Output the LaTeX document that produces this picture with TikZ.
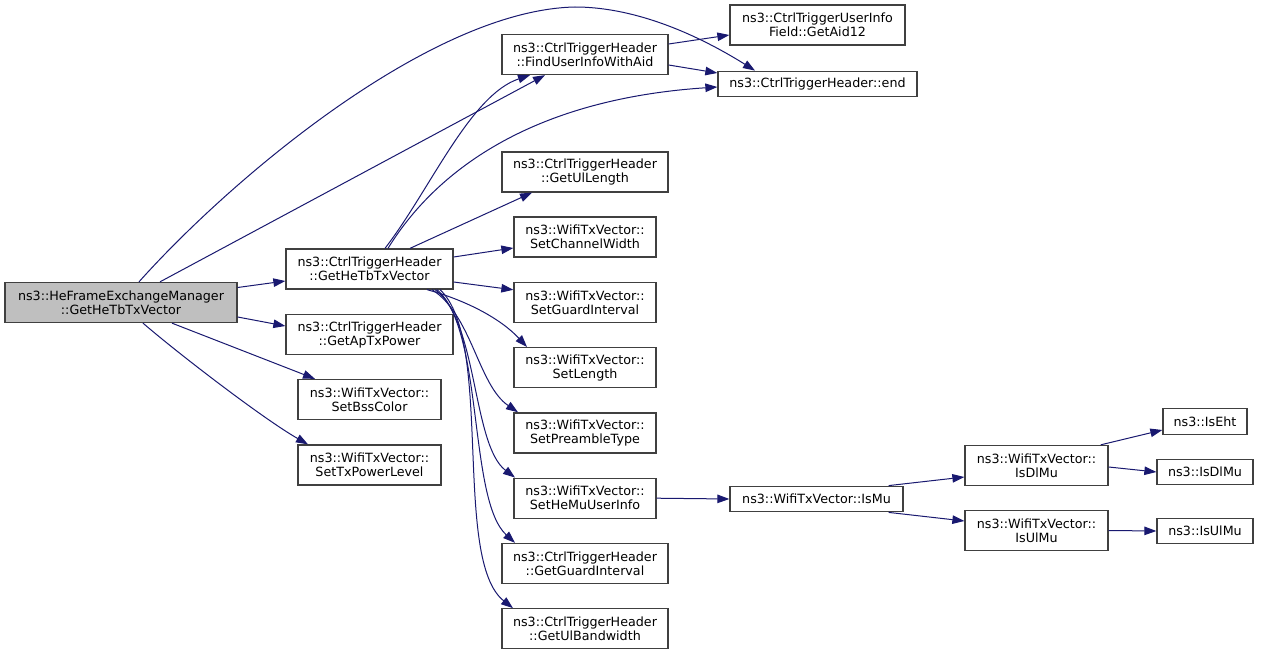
\documentclass[tikz,border=0pt]{standalone}
\usepackage{fontspec}
\setmainfont{DejaVu Sans}
\usepackage{tikz}
\usetikzlibrary{positioning,arrows.meta}
\definecolor{cedge}{HTML}{191970}
\definecolor{cborder}{HTML}{404040}
\definecolor{cfill}{HTML}{BFBFBF}

\begin{document}
\begin{tikzpicture}[x=1pt,y=-1pt,
    font=\fontsize{12.7}{14}\selectfont,
    fn/.style={draw=cborder,fill=white,line width=1.3pt,inner sep=0pt,align=center,
               minimum height=40pt},
    one/.style={fn,minimum height=25.5pt},
    cur/.style={fn,fill=cfill},
    call/.style={-{Triangle[length=12pt,width=8.5pt]},draw=cedge,line width=1pt}]
    \useasboundingbox[fill=white] (0,0) rectangle (1261,655);
    \node[cur,minimum width=232pt] (main)  at (121,302.5) {ns3::HeFrameExchangeManager\\::GetHeTbTxVector};
    \node[fn,minimum width=167pt]  (tbtx)  at (369.5,269) {ns3::CtrlTriggerHeader\\::GetHeTbTxVector};
    \node[fn,minimum width=167pt]  (aptx)  at (369.5,334.5) {ns3::CtrlTriggerHeader\\::GetApTxPower};
    \node[fn,minimum width=143pt]  (bss)   at (369.5,399.5) {ns3::WifiTxVector::\\SetBssColor};
    \node[fn,minimum width=143pt]  (txpow) at (369.5,465) {ns3::WifiTxVector::\\SetTxPowerLevel};
    \node[fn,minimum width=166pt]  (find)  at (585,54.5) {ns3::CtrlTriggerHeader\\::FindUserInfoWithAid};
    \node[fn,minimum width=175pt]  (aid)   at (817.5,25) {ns3::CtrlTriggerUserInfo\\Field::GetAid12};
    \node[one,minimum width=199pt] (hend)  at (817.5,84) {ns3::CtrlTriggerHeader::end};
    \node[fn,minimum width=166pt]  (ullen) at (585,172) {ns3::CtrlTriggerHeader\\::GetUlLength};
    \node[fn,minimum width=142pt]  (chw)   at (585,237) {ns3::WifiTxVector::\\SetChannelWidth};
    \node[fn,minimum width=142pt,below=24pt of chw]  (gi)   {ns3::WifiTxVector::\\SetGuardInterval};
    \node[fn,minimum width=142pt,below=24pt of gi]   (len)  {ns3::WifiTxVector::\\SetLength};
    \node[fn,minimum width=142pt,below=24pt of len]  (pre)  {ns3::WifiTxVector::\\SetPreambleType};
    \node[fn,minimum width=142pt,below=24pt of pre]  (hemu) {ns3::WifiTxVector::\\SetHeMuUserInfo};
    \node[fn,minimum width=166pt,below=24pt of hemu] (tgi)  {ns3::CtrlTriggerHeader\\::GetGuardInterval};
    \node[fn,minimum width=166pt,below=24pt of tgi]  (ulbw) {ns3::CtrlTriggerHeader\\::GetUlBandwidth};
    \node[one,minimum width=173pt] (ismu)  at (816.5,499) {ns3::WifiTxVector::IsMu};
    \node[fn,minimum width=143pt]  (isdl)  at (1036.5,465.5) {ns3::WifiTxVector::\\IsDlMu};
    \node[fn,minimum width=143pt]  (isul)  at (1036.5,530.5) {ns3::WifiTxVector::\\IsUlMu};
    \node[one,minimum width=84pt]  (eht)   at (1205,421.5) {ns3::IsEht};
    \node[one,minimum width=96pt]  (dlmu)  at (1205,472) {ns3::IsDlMu};
    \node[one,minimum width=96pt]  (ulmu)  at (1205,531) {ns3::IsUlMu};
    \draw[call] ([yshift=15pt]main.east) -- ([yshift=-12pt]tbtx.west);
    \draw[call] ([yshift=-14.5pt]main.east) -- ([yshift=8.5pt]aptx.west);
    \draw[call] ([xshift=51pt]main.south) -- ([xshift=-54.5pt]bss.north);
    \draw[call] ([xshift=22pt]main.south) .. controls (180,355) and (265,420) .. ([xshift=-61.5pt]txpow.north);
    \draw[call] ([xshift=39pt]main.north) -- ([xshift=-40pt]find.south);
    \draw[call] ([xshift=18pt]main.north) .. controls (230,180) and (430,10) .. (575,7)
                .. controls (630,7) and (690,30) .. ([xshift=-62.5pt]hend.north);
    \draw[call] ([xshift=15.5pt]tbtx.north) .. controls (430,190) and (470,95) .. ([xshift=-55pt]find.south);
    \draw[call] ([xshift=18.5pt]tbtx.north) .. controls (430,180) and (520,100) .. ([yshift=-3pt]hend.west);
    \draw[call] ([xshift=40.5pt]tbtx.north) -- ([xshift=-53pt]ullen.south);
    \draw[call] ([yshift=12pt]tbtx.east) -- ([yshift=-11pt]chw.west);
    \draw[call] ([yshift=-13pt]tbtx.east) -- ([yshift=12.5pt]gi.west);
    \draw[call] ([xshift=57.5pt]tbtx.south) .. controls (465,300) and (500,318) .. ([xshift=-58pt]len.north);
    \draw[call] ([xshift=62.5pt]tbtx.south) .. controls (472,315) and (478,385) .. ([xshift=-67pt]pre.north);
    \draw[call] ([xshift=65.5pt]tbtx.south) .. controls (478,320) and (472,445) .. ([xshift=-70pt]hemu.north);
    \draw[call] ([xshift=67.5pt]tbtx.south) .. controls (484,330) and (468,500) .. ([xshift=-70pt]tgi.north);
    \draw[call] ([xshift=70.5pt]tbtx.south) .. controls (494,340) and (452,560) .. ([xshift=-72pt]ulbw.north);
    \draw[call] ([yshift=10.5pt]find.east) -- ([yshift=-10pt]aid.west);
    \draw[call] ([yshift=-10.5pt]find.east) -- ([yshift=11pt]hend.west);
    \draw[call] (hemu.east) -- (ismu.west);
    \draw[call] ([xshift=-15pt]ismu.north east) -- ([yshift=-11.5pt]isdl.west);
    \draw[call] ([xshift=-15pt]ismu.south east) -- ([yshift=9.5pt]isul.west);
    \draw[call] ([xshift=-8pt]isdl.north east) -- ([yshift=-8.5pt]eht.west);
    \draw[call] ([yshift=-1.5pt]isdl.east) -- (dlmu.west);
    \draw[call] (isul.east) -- (ulmu.west);
  \end{tikzpicture}
\end{document}
